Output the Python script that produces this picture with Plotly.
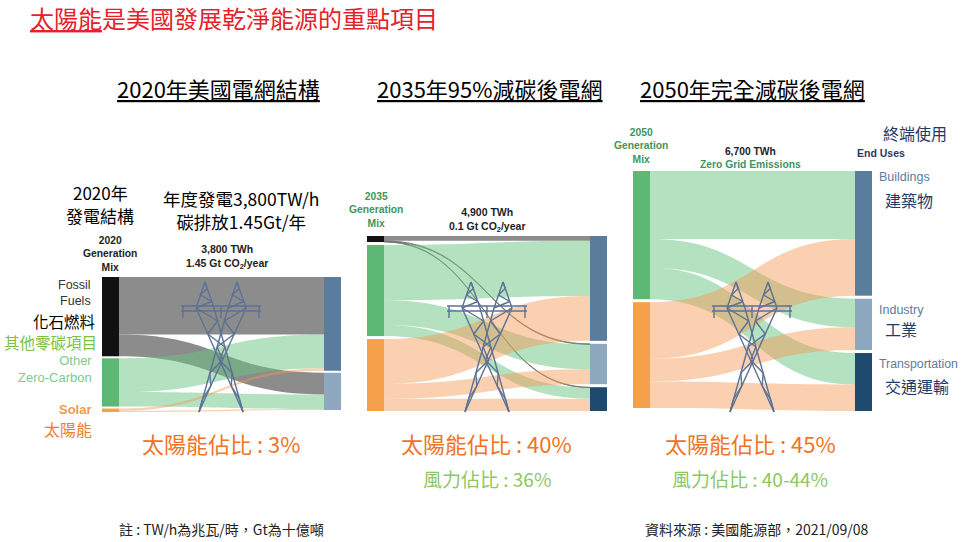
import plotly.graph_objects as go

W, H = 962, 542
CJK = "Noto Sans CJK TC"
LAT = "Liberation Sans"

# ---- data, TWh per flow (rows = generation source, cols = end use) ----
sources_2020 = ["Fossil Fuels", "Other Zero-Carbon", "Solar"]
uses_2020 = ["Buildings", "Industry"]
fossil_2020 = [1670, 630]
zero_2020 = [980, 420]
solar_2020 = [70, 30]

sources_2035 = ["Fossil Fuels", "Other Zero-Carbon", "Solar"]
uses_2035 = ["Buildings", "Industry", "Transportation"]
fossil_2035 = [140, 20, 15]
zero_2035 = [1600, 720, 320]
solar_2035 = [1300, 430, 355]

sources_2050 = ["Other Zero-Carbon", "Solar"]
uses_2050 = ["Buildings", "Industry", "Transportation"]
zero_2050 = [1950, 820, 900]
solar_2050 = [1620, 650, 760]

solar_share = ["3%", "40%", "45%"]
wind_share = ["36%", "40-44%"]

NODE_COL = {
    "Fossil Fuels": "#111111",
    "Other Zero-Carbon": "#5cb874",
    "Solar": "#f5a04a",
    "Buildings": "#5a7d9e",
    "Industry": "#8ea8bf",
    "Transportation": "#1d4a6e",
}
LINK_COL = {
    "Fossil Fuels": "rgba(115,115,115,0.82)",
    "Other Zero-Carbon": "rgba(105,195,130,0.5)",
    "Solar": "rgba(246,150,80,0.45)",
}
THICK = 17


def px(x):
    return x / W


def py(y):
    return 1 - y / H


def make_sankey(sources, uses, flows, box, pad):
    x0, x1, y0, y1 = box
    w, h = x1 - x0, y1 - y0
    n_s = len(sources)
    src, tgt, val, lcol = [], [], [], []
    for i, row in enumerate(flows):
        for j, v in enumerate(row):
            src.append(i)
            tgt.append(n_s + j)
            val.append(v)
            lcol.append(LINK_COL[sources[i]])
    out_tot = [sum(r) for r in flows]
    in_tot = [sum(r[j] for r in flows) for j in range(len(uses))]
    # same scale plotly uses, so nodes keep the order of the lists
    ky = min((h - (len(c) - 1) * pad) / sum(c) for c in (out_tot, in_tot))
    ys = []
    for col in (out_tot, in_tot):
        acc = 0
        for v in col:
            ys.append((acc + v * ky / 2) / h)
            acc += v * ky + pad
    xs = [THICK / 2 / w] * n_s + [1 - THICK / 2 / w] * len(uses)
    names = sources + uses
    return go.Sankey(
        domain=dict(x=[px(x0), px(x1)], y=[py(y1), py(y0)]),
        arrangement="fixed",
        node=dict(
            label=[""] * len(names),
            customdata=names,
            x=xs,
            y=ys,
            pad=pad,
            thickness=THICK,
            color=[NODE_COL[n] for n in names],
            line=dict(width=0),
            hovertemplate="%{customdata}<br>%{value:,} TWh<extra></extra>",
        ),
        link=dict(source=src, target=tgt, value=val, color=lcol),
    )


fig = go.Figure()
fig.add_trace(make_sankey(sources_2020, uses_2020,
                          [fossil_2020, zero_2020, solar_2020],
                          (102, 341, 277, 412), 2))
fig.add_trace(make_sankey(sources_2035, uses_2035,
                          [fossil_2035, zero_2035, solar_2035],
                          (367, 607, 236, 411), 3))
fig.add_trace(make_sankey(sources_2050, uses_2050,
                          [zero_2050, solar_2050],
                          (633, 872, 171, 411), 3))


# transmission tower drawn over each sankey
def tower(cx, top=282, arm=308, base=412, color="#5d7294"):
    segs = [
        ((cx - 16, top), (cx - 25, arm)), ((cx - 16, top), (cx - 7, arm)),
        ((cx + 16, top), (cx + 7, arm)), ((cx + 16, top), (cx + 25, arm)),
        ((cx - 25, arm), (cx + 22, base)), ((cx - 7, arm), (cx + 22, base)),
        ((cx + 25, arm), (cx - 22, base)), ((cx + 7, arm), (cx - 22, base)),
        ((cx - 40, arm - 2), (cx + 40, arm - 2)), ((cx - 40, arm + 3), (cx + 40, arm + 3)),
        ((cx - 38, arm - 2), (cx - 38, arm + 10)), ((cx + 38, arm - 2), (cx + 38, arm + 10)),
        ((cx, arm - 2), (cx, arm + 10)),
    ]
    # lattice zigzags
    for a0, b0, a1, b1, n in [
        ((cx - 16, top), (cx - 16, top), (cx - 25, arm), (cx - 7, arm), 4),
        ((cx + 16, top), (cx + 16, top), (cx + 7, arm), (cx + 25, arm), 4),
        ((cx - 25, arm), (cx - 7, arm), (cx + 22, base), (cx + 22, base), 8),
        ((cx + 25, arm), (cx + 7, arm), (cx - 22, base), (cx - 22, base), 8),
    ]:
        pts = []
        for k in range(n + 1):
            t = k / n
            p = a0 if k % 2 == 0 else b0
            q = a1 if k % 2 == 0 else b1
            pts.append((p[0] + (q[0] - p[0]) * t, p[1] + (q[1] - p[1]) * t))
        segs += list(zip(pts[:-1], pts[1:]))
    for (xa, ya), (xb, yb) in segs:
        fig.add_shape(type="line", xref="paper", yref="paper",
                      x0=px(xa), y0=py(ya), x1=px(xb), y1=py(yb),
                      line=dict(color=color, width=1.4), layer="above")


for c in (221, 487, 752):
    tower(c)

ann = []


def note(text, x, y, size, color="#000000", xanchor="center", family=CJK, align="center"):
    ann.append(dict(text=text, x=px(x), y=py(y), xref="paper", yref="paper",
                    xanchor=xanchor, yanchor="middle", showarrow=False, align=align,
                    font=dict(size=size, color=color, family=family)))


# title and panel headings
note("<u>太陽能</u>是美國發展乾淨能源的重點項目", 28, 17, 24, "#e5212b", "left")
note("<u>2020年美國電網結構</u>", 218, 88, 22)
note("<u>2035年95%減碳後電網</u>", 490, 88, 22)
note("<u>2050年完全減碳後電網</u>", 752, 88, 22)

# panel 1 texts
note("2020年", 100, 193, 17)
note("發電結構", 100, 216, 17)
note("年度發電3,800TW/h<br>碳排放1.45Gt/年", 241, 210, 17.5)
note("<b>2020<br>Generation<br>Mix</b>", 110, 254, 10.3, "#222222", family=LAT)
note("<b>3,800 TWh<br>1.45 Gt CO<sub>2</sub>/year</b>", 227, 257, 10.5, "#222222", family=LAT)
note("Fossil<br>Fuels", 93, 293, 12.5, "#333333", "right", LAT, "right")
note("化石燃料", 97, 321, 15.5, "#000000", "right")
note("其他零碳項目", 99, 342, 15.5, "#7cc142", "right")
note("Other<br>Zero-Carbon", 94, 369, 13, "#7dca91", "right", LAT, "right")
note("<b>Solar</b>", 94, 409, 13, "#f39a4c", "right", LAT)
note("太陽能", 94, 429, 16, "#ef7d2c", "right")

# panel 2 texts
note("<b>2035<br>Generation<br>Mix</b>", 376, 210, 10.3, "#3f9460", family=LAT)
note("<b>4,900 TWh<br>0.1 Gt CO<sub>2</sub>/year</b>", 487, 220, 10.5, "#222222", family=LAT)

# panel 3 texts
note("<b>2050<br>Generation<br>Mix</b>", 641, 146, 10.3, "#3f9460", family=LAT)
note("<b>6,700 TWh<br><span style='color:#3f9460'>Zero Grid Emissions</span></b>",
     750, 158, 10.3, "#222222", family=LAT)
note("終端使用", 915, 133, 16, "#1f3a66")
note("<b>End Uses</b>", 881, 153, 10.5, "#1f3a66", family=LAT)
note("Buildings", 877, 177, 12.5, "#5a7d9e", "left", LAT)
note("建築物", 883, 200, 16, "#1f3a66", "left")
note("Industry", 877, 310, 12.5, "#5a7d9e", "left", LAT)
note("工業", 883, 329, 16, "#1f3a66", "left")
note("Transportation", 877, 364, 12.3, "#5a7d9e", "left", LAT)
note("交通運輸", 883, 386, 16, "#1f3a66", "left")

# shares
for cx, s in zip((221, 487, 750), solar_share):
    note(f"太陽能佔比 : {s}", cx, 443, 22, "#ef7424")
for cx, s in zip((487, 750), wind_share):
    note(f"風力佔比 : {s}", cx, 478, 19, "#8cc764")

# footer
note("註 : TW/h為兆瓦/時，Gt為十億噸", 117, 529, 14, "#222222", "left")
note("資料來源 : 美國能源部，2021/09/08", 643, 529, 14, "#222222", "left")

fig.update_layout(
    width=W, height=H,
    margin=dict(l=0, r=0, t=0, b=0),
    paper_bgcolor="white",
    plot_bgcolor="white",
    font=dict(family=CJK),
    annotations=ann,
    showlegend=False,
)

fig.write_html("out.html", config={"displayModeBar": False},
               post_script="document.body.style.margin='0';")
